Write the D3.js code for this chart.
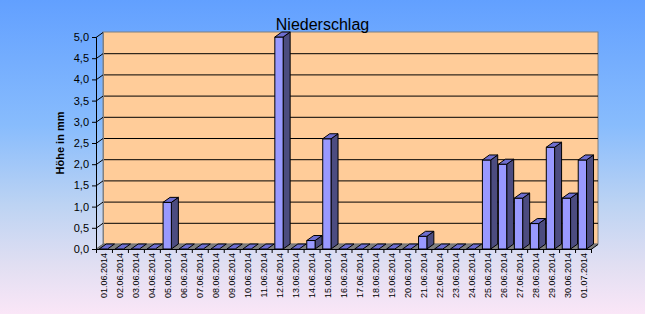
<!DOCTYPE html>
<html><head><meta charset="utf-8">
<script src="https://cdn.jsdelivr.net/npm/d3@7/dist/d3.min.js"></script>
<style>html,body{margin:0;padding:0;}svg{display:block;}</style>
</head><body>
<script>
const dates = ["01.06.2014","02.06.2014","03.06.2014","04.06.2014","05.06.2014","06.06.2014","07.06.2014","08.06.2014","09.06.2014","10.06.2014","11.06.2014","12.06.2014","13.06.2014","14.06.2014","15.06.2014","16.06.2014","17.06.2014","18.06.2014","19.06.2014","20.06.2014","21.06.2014","22.06.2014","23.06.2014","24.06.2014","25.06.2014","26.06.2014","27.06.2014","28.06.2014","29.06.2014","30.06.2014","01.07.2014"];
const values = [0,0,0,0,1.1,0,0,0,0,0,0,5.0,0,0.2,2.6,0,0,0,0,0,0.3,0,0,0,2.1,2.0,1.2,0.6,2.4,1.2,2.1];
const yTicks = [0,0.5,1,1.5,2,2.5,3,3.5,4,4.5,5];
const title = "Niederschlag";
const yTitle = "Höhe in mm";

const W = 645, H = 314;
const DX = 7, DY = -5;
const svg = d3.select("body").append("svg").attr("width", W).attr("height", H)
  .style("font-family", "Arial, 'Liberation Sans', sans-serif");

const defs = svg.append("defs");
const g = defs.append("linearGradient").attr("id","bg").attr("x1",0).attr("y1",0).attr("x2",0).attr("y2",1);
g.append("stop").attr("offset","0").attr("stop-color","#62a0ff");
g.append("stop").attr("offset","0.4").attr("stop-color","#88bcfd");
g.append("stop").attr("offset","0.65").attr("stop-color","#bcd3f3");
g.append("stop").attr("offset","0.85").attr("stop-color","#e2dff2");
g.append("stop").attr("offset","1").attr("stop-color","#fae6f7");
svg.append("rect").attr("width",W).attr("height",H).attr("fill","url(#bg)");

const x = d3.scaleBand().domain(dates).range([96, 591]).padding(0);
const y = d3.scaleLinear().domain([0,5]).range([249, 37]);
const bw = x.bandwidth();

// back wall
svg.append("rect")
  .attr("x", x.range()[0]+DX).attr("y", y(5)+DY)
  .attr("width", x.range()[1]-x.range()[0]).attr("height", y(0)-y(5))
  .attr("fill","#ffcc99").attr("stroke","#808080").attr("stroke-width",1);

// gridlines on back wall
svg.append("g").selectAll("line").data(yTicks.filter(v=>v>0 && v<5)).join("line")
  .attr("x1", x.range()[0]+DX).attr("x2", x.range()[1]+DX)
  .attr("y1", d=>y(d)+DY+0.5).attr("y2", d=>y(d)+DY+0.5)
  .attr("stroke","#000").attr("stroke-width",1);

// left wall diagonal lines
svg.append("g").selectAll("line").data(yTicks).join("line")
  .attr("x1", x.range()[0]).attr("x2", x.range()[0]+DX)
  .attr("y1", d=>y(d)+0.5).attr("y2", d=>y(d)+DY+0.5)
  .attr("stroke","#000").attr("stroke-width",1);
svg.append("line").attr("x1", x.range()[0]+DX+0.5).attr("x2", x.range()[0]+DX+0.5)
  .attr("y1", y(5)+DY).attr("y2", y(0)+DY).attr("stroke","#808080");

// floor
const x0 = x.range()[0], x1 = x.range()[1], y0 = y(0);
svg.append("path")
  .attr("d", `M${x0},${y0}L${x1},${y0}L${x1+DX},${y0+DY}L${x0+DX},${y0+DY}Z`)
  .attr("fill","#808080").attr("stroke","#606060").attr("stroke-width",0.5);

// bars
const bars = svg.append("g");
dates.forEach((d,i)=>{
  const v = values[i];
  const fx = x(d) + bw*0.2, fw = bw*0.52;
  const yt = y(v);
  const grp = bars.append("g").attr("stroke","#000").attr("stroke-width",1).attr("stroke-linejoin","round");
  if (v > 0) {
    grp.append("path").attr("fill","#4c4c80")
      .attr("d", `M${fx+fw},${y0}L${fx+fw+DX},${y0+DY}L${fx+fw+DX},${yt+DY}L${fx+fw},${yt}Z`);
    grp.append("rect").attr("fill","#9999ff").attr("x",fx).attr("y",yt).attr("width",fw).attr("height",y0-yt);
  }
  grp.append("path").attr("fill","#6e6ed0")
    .attr("d", `M${fx},${yt}L${fx+DX},${yt+DY}L${fx+fw+DX},${yt+DY}L${fx+fw},${yt}Z`);
});

// y axis
const ya = svg.append("g").attr("transform",`translate(${x0},0)`)
  .call(d3.axisLeft(y).tickValues(yTicks).tickSize(4).tickPadding(3)
    .tickFormat(d=>d.toFixed(1).replace(".",",")));
ya.selectAll("path,line").attr("stroke","#000");
ya.selectAll("text").attr("font-size","11px").attr("fill","#000").style("font-family","Arial, 'Liberation Sans', sans-serif");

// x axis
svg.append("line").attr("x1",x0).attr("x2",x1).attr("y1",y0+0.5).attr("y2",y0+0.5).attr("stroke","#000");
svg.append("line").attr("x1",x1).attr("x2",x1+DX).attr("y1",y0+0.5).attr("y2",y0+DY+0.5).attr("stroke","#000");
svg.append("g").selectAll("line").data(dates.concat(["end"])).join("line")
  .attr("x1",(d,i)=>x0+i*bw+0.5).attr("x2",(d,i)=>x0+i*bw+0.5)
  .attr("y1",y0).attr("y2",y0+4).attr("stroke","#000");
svg.append("g").selectAll("text").data(dates).join("text")
  .attr("transform", d=>`translate(${x(d)+bw/2+3.5},${y0+4}) rotate(-90)`)
  .attr("text-anchor","end").attr("font-size","9px").attr("fill","#000")
  .text(d=>d);

// titles
svg.append("text").attr("x", W/2).attr("y", 30).attr("text-anchor","middle")
  .attr("font-size","16px").attr("fill","#000").text(title);
svg.append("text").attr("transform","translate(64,143) rotate(-90)")
  .attr("text-anchor","middle").attr("font-size","11px").attr("font-weight","bold").attr("fill","#000").text(yTitle);
</script>
</body></html>
